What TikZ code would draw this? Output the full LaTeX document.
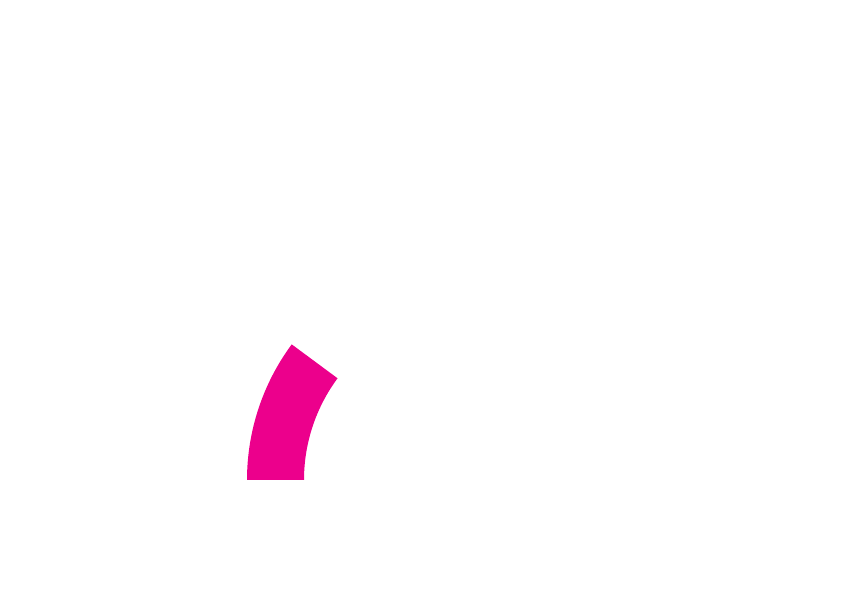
\documentclass[tikz,border=0pt]{standalone}
\usepackage{tikz}
\usepackage{color}
\definecolor{magenta}{rgb}{0.925,0,0.549}

\begin{document}
\begin{tikzpicture}[x=1bp, y=1bp]
    \useasboundingbox (0,0) rectangle (842,595); % the page
    \coordinate (c) at (475,115);
    \fill[magenta] ([shift={(180:228)}]c) arc (180:143.5:228) -- ([shift={(143.5:171)}]c) arc (143.5:180:171) -- cycle;
  \end{tikzpicture}
\end{document}
